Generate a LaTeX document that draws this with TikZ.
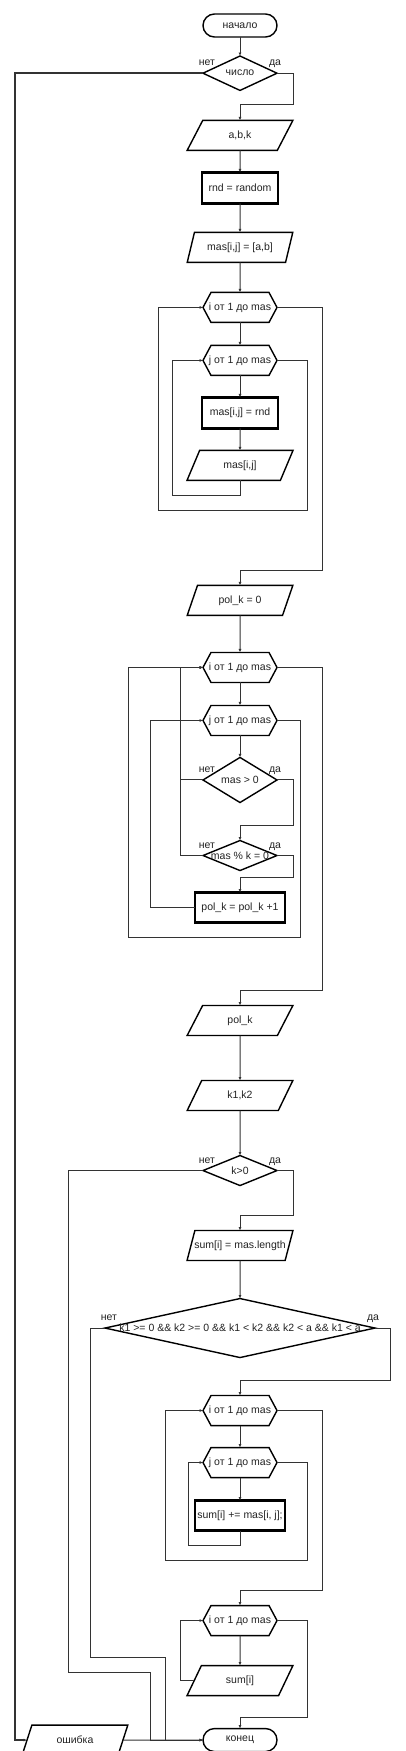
\documentclass[tikz,border=0pt]{standalone}
\usepackage{fontspec}
\setmainfont{Liberation Sans}
\usetikzlibrary{arrows.meta,positioning,shapes.geometric}
\definecolor{ink}{HTML}{222222}
\definecolor{wire}{HTML}{333333}
\tikzset{
  base/.style={draw=black,line width=1.4pt,inner sep=0pt,outer sep=0pt,font=\fontsize{10.5}{12}\selectfont,text=ink},
  term/.style={base,rectangle,rounded corners=11.5pt,minimum width=74pt,minimum height=23pt},
  proc/.style={base,rectangle,line width=2.2pt,minimum width=76pt,minimum height=31pt},
  procwide/.style={proc,minimum width=90pt,minimum height=30pt},
  para/.style={base,trapezium,trapezium left angle=62,trapezium right angle=118,trapezium stretches=true,minimum width=106pt,minimum height=30pt},
  decision/.style={base,diamond,minimum width=74pt,minimum height=30pt},
  bigdecision/.style={decision,minimum width=270pt,minimum height=59pt},
  loopbox/.style={base,draw=none,rectangle,minimum width=74pt,minimum height=30pt},
  hexline/.style={draw=black,line width=1.4pt,line join=miter},
  flow/.style={draw=wire,line width=1pt,-{Latex[length=3.5pt,width=3pt]}},
  nolbl/.style={anchor=base,xshift=4pt,yshift=7.5pt,inner sep=0pt,font=\fontsize{10.5}{12}\selectfont,text=ink},
  yeslbl/.style={anchor=base,xshift=-2pt,yshift=7.5pt,inner sep=0pt,font=\fontsize{10.5}{12}\selectfont,text=ink}
}
\begin{document}
\begin{tikzpicture}[x=1pt,y=-1pt]
  \useasboundingbox (0,0) rectangle (405,1751);

  \node[term] (start) at (240,25.5) {начало};
  \node[decision,below=19pt of start] (chislo) {число};
  \node[para,below=30pt of chislo] (abk) {a,b,k};
  \node[proc,below=22pt of abk] (rnd) {rnd = random};
  \node[para,below=29pt of rnd] (masab) {mas[i,j] = [a,b]};
  \node[loopbox,below=30pt of masab] (ia) {i от 1 до mas};
  \node[loopbox,below=23pt of ia] (ja) {j от 1 до mas};
  \node[proc,below=22pt of ja] (masrnd) {mas[i,j] = rnd};
  \node[para,below=22pt of masrnd] (masij) {mas[i,j]};
  \node[para,below=105pt of masij] (polzero) {pol\_k = 0};
  \node[loopbox,below=37pt of polzero] (ib) {i от 1 до mas};
  \node[loopbox,below=23pt of ib] (jb) {j от 1 до mas};
  \node[decision,below=22pt of jb] (pos) {mas > 0};
  \node[decision,below=38pt of pos] (modk) {\makebox[0pt]{mas \% k = 0}};
  \node[procwide,below=22pt of modk] (inc) {pol\_k = pol\_k +1};
  \node[para,below=83pt of inc] (polout) {pol\_k};
  \node[para,below=45pt of polout] (kin) {k1,k2};
  \node[decision,below=45pt of kin] (kpos) {k>0};
  \node[para,below=45pt of kpos] (sumlen) {\makebox[60pt]{sum[i] = mas.length}};
  \node[bigdecision,below=38pt of sumlen] (range) {\makebox[0pt]{k1 >= 0 \&\& k2 >= 0 \&\& k1 < k2 \&\& k2 < a \&\& k1 < a}};
  \node[loopbox,below=38pt of range] (ic) {i от 1 до mas};
  \node[loopbox,below=22pt of ic] (jc) {j от 1 до mas};
  \node[procwide,below=23pt of jc] (sumadd) {sum[i] += mas[i, j];};
  \node[loopbox,below=75pt of sumadd] (id) {i от 1 до mas};
  \node[para,below=30pt of id] (sumout) {sum[i]};
  \node[term,below=33pt of sumout] (stop) {конец};
  \node[para] (err) at (75,0 |- stop) {ошибка};

  \foreach \n in {ia,ja,ib,jb,ic,jc,id}
    \draw[hexline] (\n.west) -- ([xshift=8pt]\n.north west) -- ([xshift=-8pt]\n.north east)
      -- (\n.east) -- ([xshift=-8pt]\n.south east) -- ([xshift=8pt]\n.south west) -- cycle;

  \foreach \a/\b in {start/chislo,abk/rnd,rnd/masab,masab/ia,ia/ja,ja/masrnd,masrnd/masij,
      polzero/ib,ib/jb,jb/pos,polout/kin,kin/kpos,sumlen/range,ic/jc,jc/sumadd,id/sumout}
    \draw[flow] (\a) -- (\b);

  \draw[flow] (chislo.east) node[yeslbl]{да} -- ++(16,0) |- ([yshift=16pt]abk.north) -- (abk.north);
  \draw[flow,line width=1.8pt] (chislo.west) node[nolbl]{нет} -- ++(-188,0) |- (err.west);

  \draw[flow] (masij.south) -- ++(0,15) -| ([xshift=-31pt]ja.west) -- (ja.west);
  \draw[flow] (ja.east) -- ++(30,0) -- ++(0,150) -| ([xshift=-45pt]ia.west) -- (ia.west);
  \draw[flow] (ia.east) -- ++(45,0) |- ([yshift=15pt]polzero.north) -- (polzero.north);

  \draw[flow] (pos.east) node[yeslbl]{да} -- ++(16,0) |- ([yshift=15pt]modk.north) -- (modk.north);
  \draw[flow] (pos.west) node[nolbl]{нет} -| ([xshift=-23pt]ib.west) -- (ib.west);
  \draw[flow] (modk.west) node[nolbl]{нет} -| ([xshift=-23pt]ib.west) -- (ib.west);
  \draw[flow] (modk.east) node[yeslbl]{да} -- ++(16,0) |- ([yshift=15pt]inc.north) -- (inc.north);
  \draw[flow] (inc.west) -| ([xshift=-53pt]jb.west) -- (jb.west);
  \draw[flow] (jb.east) -- ++(23,0) -- ++(0,217) -| ([xshift=-75pt]ib.west) -- (ib.west);
  \draw[flow] (ib.east) -- ++(45,0) |- ([yshift=15pt]polout.north) -- (polout.north);

  \draw[flow] (kpos.east) node[yeslbl]{да} -- ++(16,0) |- ([yshift=15pt]sumlen.north) -- (sumlen.north);
  \draw[flow] (kpos.west) node[nolbl]{нет} -- ++(-135,0) -- ++(0,502) -| ([xshift=-53pt]stop.west) -- (stop.west);
  \draw[flow] (range.east) node[yeslbl]{да} -- ++(15,0) |- ([yshift=15pt]ic.north) -- (ic.north);
  \draw[flow] (range.west) node[nolbl]{нет} -- ++(-15,0) -- ++(0,329.5) -| ([xshift=-38pt]stop.west) -- (stop.west);

  \draw[flow] (sumadd.south) -- ++(0,15) -| ([xshift=-15pt]jc.west) -- (jc.west);
  \draw[flow] (jc.east) -- ++(30,0) -- ++(0,98) -| ([xshift=-38pt]ic.west) -- (ic.west);
  \draw[flow] (ic.east) -- ++(45,0) |- ([yshift=15pt]id.north) -- (id.north);
  \draw[flow] (sumout.west) -| ([xshift=-23pt]id.west) -- (id.west);
  \draw[flow] (id.east) -- ++(30,0) |- ([yshift=11pt]stop.north) -- (stop.north);
  \draw[flow] (err.east) -- (stop.west);
\end{tikzpicture}
\end{document}
